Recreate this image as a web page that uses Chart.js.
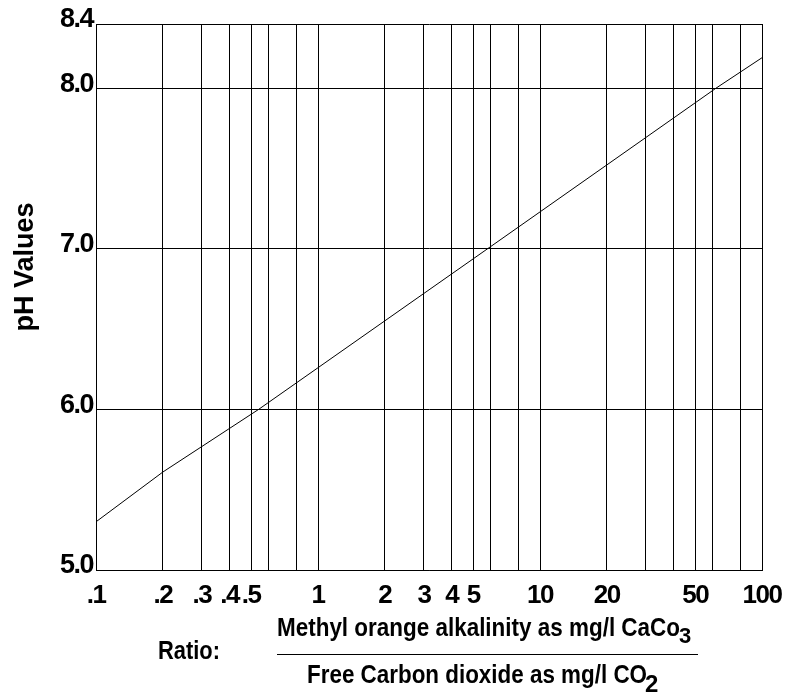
<!DOCTYPE html>
<html>
<head>
<meta charset="utf-8">
<script src="https://cdn.jsdelivr.net/npm/chart.js@4.4.1/dist/chart.umd.min.js"></script>
<style>
  html, body { margin: 0; padding: 0; background: #fff; }
  #wrap { width: 788px; height: 698px; position: relative; }
</style>
</head>
<body>
<div id="wrap"><canvas id="chart"></canvas></div>
<script>
// ratio (methyl orange alkalinity / free CO2) vs pH
const ratios = [0.1, 0.2, 0.54, 5.8, 62, 100];
const phValues = [5.3, 5.61, 6.0, 7.0, 8.0, 8.19];

// vertical grid lines and which of them carry a label
const xGrid = [0.1, 0.2, 0.3, 0.4, 0.5, 0.6, 0.8, 1, 2, 3, 4, 5, 6, 8, 10, 20, 30, 40, 50, 60, 80, 100];
const xLabelValues = [0.1, 0.2, 0.3, 0.4, 0.5, 1, 2, 3, 4, 5, 10, 20, 50, 100];
const xLabelText = ['.1', '.2', '.3', '.4', '.5', '1', '2', '3', '4', '5', '10', '20', '50', '100'];

const yTicks = [5.0, 6.0, 7.0, 8.0, 8.4];

const FONT = '"Liberation Sans", Arial, sans-serif';

function labelFor(v) {
  for (let i = 0; i < xLabelValues.length; i++) {
    if (Math.abs(xLabelValues[i] - v) < 1e-6 * xLabelValues[i]) return xLabelText[i];
  }
  return '';
}

function fitText(ctx, text, x, y, w) {
  const m = ctx.measureText(text).width;
  ctx.save();
  ctx.translate(x, y);
  ctx.scale(w / m, 1);
  ctx.fillText(text, 0, 0);
  ctx.restore();
}

const annotations = {
  id: 'annotations',
  beforeDraw(chart) {
    chart.ctx.letterSpacing = '-1.5px';
  },
  afterDraw(chart) {
    const ctx = chart.ctx;
    ctx.save();
    ctx.letterSpacing = '0px';
    ctx.fillStyle = '#000';
    ctx.textAlign = 'left';
    ctx.textBaseline = 'alphabetic';

    // y axis title
    ctx.save();
    ctx.font = 'bold 27px ' + FONT;
    ctx.translate(33, 267);
    ctx.rotate(-Math.PI / 2);
    ctx.textAlign = 'center';
    ctx.fillText('pH Values', 0, 0);
    ctx.restore();

    // ratio explanation under the x axis
    ctx.font = 'bold 26px ' + FONT;
    fitText(ctx, 'Ratio:', 158, 659, 62);

    ctx.font = 'bold 25px ' + FONT;
    fitText(ctx, 'Methyl orange alkalinity as mg/l CaCo', 277, 636, 403);
    ctx.font = 'bold 22px ' + FONT;
    ctx.fillText('3', 679, 643);

    ctx.strokeStyle = '#000';
    ctx.lineWidth = 1;
    ctx.beginPath();
    ctx.moveTo(277, 654.5);
    ctx.lineTo(698, 654.5);
    ctx.stroke();

    ctx.font = 'bold 25px ' + FONT;
    fitText(ctx, 'Free Carbon dioxide as mg/l CO', 307, 683, 340);
    ctx.font = 'bold 24px ' + FONT;
    ctx.fillText('2', 645, 692);
    ctx.restore();
  }
};

new Chart(document.getElementById('chart').getContext('2d'), {
  type: 'scatter',
  data: {
    datasets: [{
      data: ratios.map((r, i) => ({ x: r, y: phValues[i] })),
      showLine: true,
      borderColor: '#000',
      borderWidth: 1,
      pointRadius: 0,
      fill: false
    }]
  },
  options: {
    responsive: true,
    maintainAspectRatio: false,
    animation: false,
    layout: { padding: { left: 0, top: 24, right: 26, bottom: 0 } },
    plugins: {
      legend: { display: false },
      tooltip: { enabled: false }
    },
    scales: {
      x: {
        type: 'logarithmic',
        min: 0.1,
        max: 100,
        afterBuildTicks: (scale) => { scale.ticks = xGrid.map(v => ({ value: v })); },
        afterFit: (scale) => {
          scale.height = 128;
          scale.paddingLeft = 0;
          scale.paddingRight = 0;
        },
        grid: { color: '#000', lineWidth: 1, drawTicks: false },
        border: { color: '#000', width: 1 },
        ticks: {
          autoSkip: false,
          maxRotation: 0,
          padding: 10,
          color: '#000',
          font: { family: FONT, size: 26, weight: 'bold' },
          callback: (v) => labelFor(v)
        }
      },
      y: {
        type: 'linear',
        min: 5.0,
        max: 8.4,
        afterBuildTicks: (scale) => { scale.ticks = yTicks.map(v => ({ value: v })); },
        afterFit: (scale) => {
          scale.width = 96;
          scale.paddingTop = 0;
          scale.paddingBottom = 0;
        },
        grid: { color: '#000', lineWidth: 1, drawTicks: false },
        border: { color: '#000', width: 1 },
        ticks: {
          padding: 3,
          labelOffset: -4,
          color: '#000',
          font: { family: FONT, size: 27, weight: 'bold' },
          callback: (v) => Number(v).toFixed(1)
        }
      }
    }
  },
  plugins: [annotations]
});
</script>
</body>
</html>
